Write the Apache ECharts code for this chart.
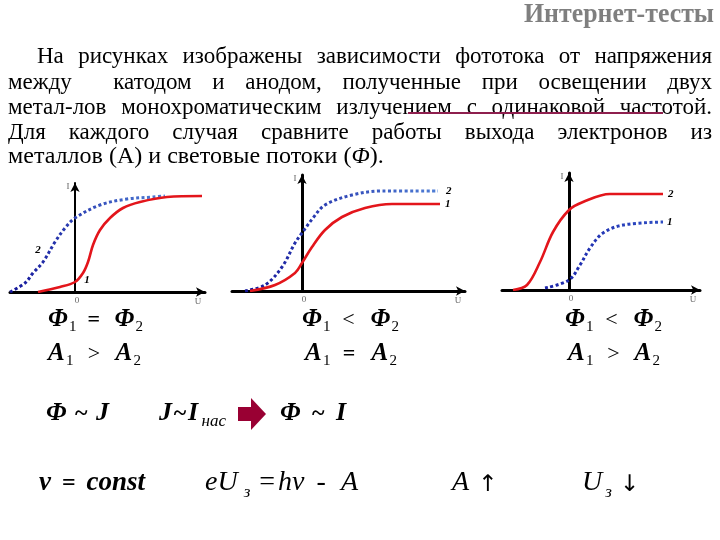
<!DOCTYPE html>
<html><head><meta charset="utf-8">
<script src="https://cdn.jsdelivr.net/npm/echarts@6/dist/echarts.min.js"></script>
<style>html,body{margin:0;padding:0;background:#fff}#c{width:720px;height:540px}</style>
</head><body><div id="c"></div>
<script>
// ---------- data (U in relative units, I in relative units) ----------
const c1Blue = [[-1.3,0],[-1.0,0.09],[-0.84,0.19],[-0.64,0.30],[-0.4,0.50],[-0.2,0.64],[0,0.74],[0.5,0.87],[1.04,0.93],[1.56,0.95],[1.8,0.96]];
const c1Red  = [[-0.74,0],[-0.3,0.05],[0,0.10],[0.16,0.19],[0.26,0.30],[0.36,0.47],[0.5,0.62],[0.7,0.74],[0.96,0.84],[1.3,0.90],[1.84,0.95],[2.54,0.96]];
const c2Blue = [[-1.14,0],[-0.74,0.06],[-0.4,0.24],[-0.14,0.48],[0,0.58],[0.22,0.73],[0.46,0.86],[1.0,0.96],[1.6,1.0],[2.72,1.0]];
const c2Red  = [[-1.04,0],[-0.54,0.06],[-0.14,0.18],[0,0.28],[0.2,0.44],[0.46,0.61],[0.8,0.74],[1.26,0.83],[1.8,0.87],[2.76,0.87]];
const c3Red  = [[-1.12,0],[-0.84,0.05],[-0.58,0.28],[-0.32,0.58],[0,0.80],[0.28,0.88],[0.82,0.96],[1.88,0.96]];
const c3Blue = [[-0.48,0.02],[0,0.10],[0.22,0.25],[0.42,0.42],[0.68,0.57],[1.08,0.65],[1.88,0.68]];
const curveNames = ['1','2'];
const axisTexts = ['0','U','I'];
const c1LabelAt = {'2':[-0.74,0.42], '1':[0.24,0.12]};

const titleText = 'Интернет-тесты';
const paraLines = [
  'На рисунках изображены зависимости фототока от напряжения',
  'между  катодом и анодом, полученные при освещении двух',
  'метал-лов монохроматическим излучением с одинаковой частотой.',
  'Для каждого случая сравните работы выхода электронов из'
];

// ---------- helpers ----------
const SERIF = '"Liberation Serif","Times New Roman","DejaVu Serif",serif';
const SANS = '"DejaVu Sans",sans-serif';
const mc = document.createElement('canvas').getContext('2d');
function tw(t, f){ mc.font = f; return mc.measureText(t).width; }
const ST = {bi:'italic bold', b:'bold', r:'normal', i:'italic', a:'normal'};
function fontStr(st, sz){ return ST[st] + ' ' + sz + 'px ' + (st === 'a' ? SANS : SERIF); }
const K = 0.34;

function textEl(t, x, base, f, sz, extra){
  return Object.assign({type:'text', x:x, y:base - K*sz, silent:true,
    style:{text:t, font:f, fill:'#000', align:'left', verticalAlign:'middle'}}, extra||{});
}
function formula(x, base, parts, xEnd){
  const els = [];
  const info = parts.map(p => {
    const f = fontStr(p[1], p[2]);
    return {t:p[0], f:f, sz:p[2], gap:p[3]||0, dy:p[4]||0, w:tw(p[0], f)};
  });
  const sumW = info.reduce((a,b)=>a+b.w,0), sumG = info.reduce((a,b)=>a+b.gap,0);
  let gf = 1;
  if (xEnd && sumG > 0) gf = Math.max(0.2, (xEnd - x - sumW)/sumG);
  let cx = x;
  info.forEach(p => {
    cx += p.gap*gf;
    els.push(textEl(p.t, cx, base+p.dy, p.f, p.sz));
    cx += p.w;
  });
  return els;
}

const chart = echarts.init(document.getElementById('c'));
const grids = [
  {left:10, top:183, width:195, height:109},
  {left:232, top:175, width:233, height:116},
  {left:502, top:173, width:198, height:117}
];
const xr = [[-1.3,2.6],[-1.4,3.26],[-1.34,2.62]];
const ymax = [1.09,1.16,1.17];
const yw = [2,3,3];

function xAx(i){ return {type:'value', gridIndex:i, min:xr[i][0], max:xr[i][1],
  axisLine:{onZero:true, lineStyle:{color:'#000', width:3}, symbol:['none','arrow'], symbolSize:[7,9]},
  axisTick:{show:false}, axisLabel:{show:false}, splitLine:{show:false}}; }
function yAx(i){ return {type:'value', gridIndex:i, min:0, max:ymax[i],
  axisLine:{onZero:true, lineStyle:{color:'#000', width:yw[i]}, symbol:['none','arrow'], symbolSize:[7,9]},
  axisTick:{show:false}, axisLabel:{show:false}, splitLine:{show:false}}; }

const blueGrad = (a,b) => new echarts.graphic.LinearGradient(0,0,1,0,[{offset:0,color:a},{offset:1,color:b}]);
const endLbl = (txt, d) => ({show:true, formatter:txt, distance:d, fontFamily:SERIF, fontStyle:'italic', fontWeight:'bold', fontSize:11, color:'#000'});

function redSeries(i, data, lbl){
  return {type:'line', xAxisIndex:i, yAxisIndex:i, data:data, smooth:0.35, symbol:'none',
    lineStyle:{color:'#e3151b', width:2.6}, endLabel: lbl ? endLbl(lbl,5) : {show:false}, z:3};
}
function blueSeries(i, data, col, lbl, d){
  return {type:'line', xAxisIndex:i, yAxisIndex:i, data:data, smooth:0.35, symbol:'none',
    lineStyle:{color:col, width:3, type:[3,2.5]}, endLabel: lbl ? endLbl(lbl,d) : {show:false}, z:2};
}

chart.setOption({
  animation:false,
  grid: grids,
  xAxis: [0,1,2].map(xAx),
  yAxis: [0,1,2].map(yAx),
  series: [
    blueSeries(0, c1Blue, blueGrad('#14149a','#4f7fd6')),
    redSeries(0, c1Red),
    blueSeries(1, c2Blue, blueGrad('#14149a','#4f7fd6'), curveNames[1], 8),
    redSeries(1, c2Red, curveNames[0]),
    redSeries(2, c3Red, curveNames[1]),
    blueSeries(2, c3Blue, blueGrad('#1a22a8','#2f4fc4'), curveNames[0], 4)
  ]
});

// ---------- graphic texts ----------
const g = [];
// title
(function(){
  const f = fontStr('b', 27), w = tw(titleText, f), target = 190;
  g.push({type:'text', x:714 - target, y:24 - K*27, scaleX: target/w, silent:true,
    style:{text:titleText, font:f, fill:'#7f7f7f', align:'left', verticalAlign:'middle'}});
})();
// paragraph
const PSZ = 23, PF = fontStr('r', PSZ);
const bases = [65, 90.5, 115.5, 140.5, 164.5];
paraLines.forEach((line, li) => {
  const x0 = li === 0 ? 37 : 8, x1 = 712;
  const words = line.split(' ');
  const ws = words.map(w => tw(w, PF));
  const sum = ws.reduce((a,b)=>a+b,0);
  let s = 1, gap = (x1 - x0 - sum)/(words.length-1);
  if (gap < 5) { gap = 5; s = (x1 - x0 - gap*(words.length-1))/sum; }
  let cx = x0;
  words.forEach((w,k) => {
    if (w) g.push(textEl(w, cx, bases[li], PF, PSZ, {scaleX:s}));
    cx += ws[k]*s + gap;
  });
});
// last line (rich text)
(function(){
  const plain = 'металлов (A) и световые потоки (Φ).';
  const w = tw(plain, PF), target = 375;
  g.push({type:'text', x:8, y:bases[4] - K*PSZ, scaleX: Math.min(1.05, target/w), silent:true,
    style:{text:'металлов (A) и световые потоки ({i|Φ}).', font:PF, fill:'#000', verticalAlign:'middle',
      rich:{i:{fontFamily:SERIF, fontStyle:'italic', fontSize:PSZ, fill:'#000'}}}});
})();
// strike line
g.push({type:'line', shape:{x1:408, y1:113, x2:663, y2:113}, style:{stroke:'#8e1f4e', lineWidth:2}, silent:true});

// axis texts and curve labels
const small = 'normal 9px ' + SERIF;
[0,1,2].forEach(i => {
  const o = chart.convertToPixel({gridIndex:i}, [0,0]);
  const gr = grids[i];
  const st = {font:small, fill:'#666', align:'center', verticalAlign:'middle'};
  g.push({type:'text', x:o[0]+2, y:o[1]+9, silent:true, style:Object.assign({text:axisTexts[0]}, st)});
  g.push({type:'text', x:gr.left+gr.width-7, y:o[1]+10, silent:true, style:Object.assign({text:axisTexts[1]}, st)});
  g.push({type:'text', x:o[0]-7, y:gr.top+4, silent:true, style:Object.assign({text:axisTexts[2]}, st)});
});
Object.keys(c1LabelAt).forEach(k => {
  const p = chart.convertToPixel({gridIndex:0}, c1LabelAt[k]);
  g.push({type:'text', x:p[0], y:p[1], silent:true,
    style:{text:k, font:'italic bold 11px '+SERIF, fill:'#000', align:'center', verticalAlign:'middle'}});
});

// formulas
const rowPhiEq = [['Φ','bi',25],['1','r',15,1,4],['=','b',22,9],['Φ','bi',25,12],['2','r',15,1,4]];
const rowPhiLt = [['Φ','bi',25],['1','r',15,1,4],['<','r',22,9],['Φ','bi',25,12],['2','r',15,1,4]];
const rowAGt   = [['A','bi',25],['1','r',15,1,4],['>','r',22,11],['A','bi',25,12],['2','r',15,1,4]];
const rowAEq   = [['A','bi',25],['1','r',15,1,4],['=','b',22,9],['A','bi',25,12],['2','r',15,1,4]];
[].concat(
  formula(48, 328, rowPhiEq, 143),
  formula(302, 328, rowPhiLt, 399),
  formula(565, 328, rowPhiLt, 662),
  formula(48, 362, rowAGt, 141),
  formula(305, 362, rowAEq, 397),
  formula(568, 362, rowAGt, 660),
  formula(46, 422, [['Φ','bi',26],['~','b',24,7],['J','bi',26,7]], 109),
  formula(159, 422, [['J','bi',26],['~','b',24,0.5],['I','bi',26,0.5],['нас','i',17,1,5]], 226),
  formula(280, 422, [['Φ','bi',26],['~','b',24,9],['I','bi',26,9]], 346),
  formula(39, 492, [['ν','bi',27],['=','b',24,9],['const','bi',27,9]], 145),
  formula(205, 492, [['e','i',28],['U','i',28],['з','i',17,4,6],['=','r',28,6],['hν','i',28,2],['-','r',28,8],['A','i',28,10]], 358),
  formula(452, 492, [['A','i',28],['↑','a',23,9,1]]),
  formula(582, 492, [['U','i',28],['з','i',17,3,6],['↓','a',23,8,1]])
).forEach(e => g.push(e));

// block arrow
g.push({type:'polygon', silent:true, shape:{points:[[238,407],[251,407],[251,398],[266,414],[251,430],[251,421],[238,421]]},
  style:{fill:'#990033'}});

chart.setOption({graphic: g});
</script>
</body></html>
